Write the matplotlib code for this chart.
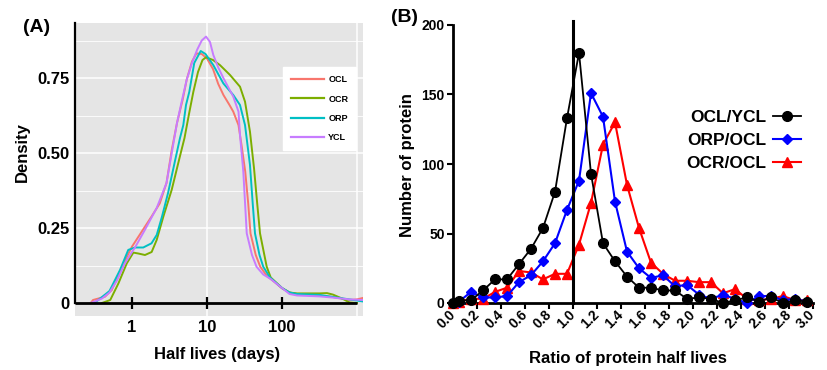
import numpy as np
import matplotlib
matplotlib.use("Agg")
import matplotlib.pyplot as plt

plt.rcParams['font.family'] = ['Liberation Sans', 'DejaVu Sans']
plt.rcParams['font.weight'] = 'bold'

# ---------------- Panel A data: log10(half life, days) vs density ----------------
ocl_logx = [-0.55, -0.52, -0.36, -0.27, -0.18, -0.09, 0.0, 0.13, 0.26, 0.37, 0.46, 0.53, 0.60, 0.675,
            0.73, 0.80, 0.86, 0.93, 1.0, 1.08, 1.15, 1.22, 1.30, 1.35, 1.42, 1.46, 1.51, 1.55, 1.58,
            1.65, 1.71, 1.80, 1.90, 2.0, 2.1, 2.2, 2.5, 2.68, 2.9, 3.0, 3.08]
ocl_dens = [0.0, 0.01, 0.021, 0.043, 0.093, 0.143, 0.188, 0.238, 0.288, 0.332, 0.40, 0.51, 0.60, 0.677,
            0.745, 0.805, 0.832, 0.83, 0.815, 0.78, 0.73, 0.693, 0.66, 0.638, 0.593, 0.527, 0.438, 0.33, 0.232,
            0.16, 0.121, 0.09, 0.07, 0.049, 0.035, 0.03, 0.025, 0.02, 0.01, 0.012, 0.017]

ocr_logx = [-0.40, -0.29, -0.18, -0.07, 0.018, 0.084, 0.173, 0.262, 0.329, 0.418, 0.529, 0.64, 0.70,
            0.76, 0.818, 0.88, 0.94, 0.987, 1.08, 1.173, 1.307, 1.44, 1.507, 1.573, 1.627, 1.67, 1.707,
            1.796, 1.85, 2.0, 2.1, 2.2, 2.5, 2.6, 2.68, 2.8, 2.9, 3.0]
ocr_dens = [0.0, 0.01, 0.066, 0.132, 0.168, 0.165, 0.16, 0.17, 0.21, 0.288, 0.377, 0.49, 0.55,
            0.63, 0.704, 0.77, 0.81, 0.819, 0.81, 0.793, 0.76, 0.721, 0.671, 0.571, 0.449, 0.33, 0.232,
            0.121, 0.085, 0.05, 0.035, 0.032, 0.032, 0.033, 0.028, 0.015, 0.002, 0.0]

orp_logx = [-0.50, -0.45, -0.30, -0.16, -0.05, 0.04, 0.15, 0.26, 0.33, 0.40, 0.48, 0.57, 0.64, 0.684,
            0.72, 0.764, 0.83, 0.916, 0.98, 1.084, 1.218, 1.351, 1.44, 1.507, 1.573, 1.61, 1.64, 1.70,
            1.75, 1.84, 2.0, 2.1, 2.2, 2.5, 2.68, 2.9, 3.08]
orp_dens = [0.0, 0.01, 0.04, 0.11, 0.177, 0.185, 0.185, 0.199, 0.227, 0.288, 0.366, 0.47, 0.55, 0.593,
            0.66, 0.704, 0.80, 0.84, 0.83, 0.793, 0.732, 0.693, 0.66, 0.593, 0.46, 0.33, 0.232, 0.16,
            0.121, 0.085, 0.05, 0.035, 0.03, 0.027, 0.02, 0.012, 0.005]

ycl_logx = [-0.55, -0.50, -0.40, -0.30, -0.20, -0.10, 0.0, 0.04, 0.17, 0.33, 0.46, 0.53, 0.60, 0.67,
            0.73, 0.80, 0.87, 0.93, 0.987, 1.04, 1.084, 1.15, 1.22, 1.35, 1.42, 1.44, 1.484, 1.53, 1.60,
            1.66, 1.75, 1.85, 2.0, 2.1, 2.2, 2.5, 2.68, 2.9, 3.08]
ycl_dens = [0.0, 0.005, 0.015, 0.035, 0.075, 0.13, 0.17, 0.185, 0.243, 0.317, 0.40, 0.50, 0.60, 0.68,
            0.745, 0.80, 0.845, 0.875, 0.888, 0.87, 0.827, 0.785, 0.749, 0.688, 0.638, 0.56, 0.438, 0.232,
            0.16, 0.121, 0.095, 0.08, 0.05, 0.03, 0.025, 0.022, 0.018, 0.012, 0.01]

series_A = [("OCL", ocl_logx, ocl_dens, "#F8766D"),
            ("OCR", ocr_logx, ocr_dens, "#7CAE00"),
            ("ORP", orp_logx, orp_dens, "#00BFC4"),
            ("YCL", ycl_logx, ycl_dens, "#C77CFF")]
xticks_A = [1, 10, 100]

# ---------------- Panel B data ----------------
ratio_bins = [0.0, 0.05, 0.15, 0.25, 0.35, 0.45, 0.55, 0.65, 0.75, 0.85, 0.95, 1.05, 1.15, 1.25, 1.35,
              1.45, 1.55, 1.65, 1.75, 1.85, 1.95, 2.05, 2.15, 2.25, 2.35, 2.45, 2.55, 2.65, 2.75, 2.85, 2.95]
ocl_ycl = [0, 1.7, 2, 9, 17, 17, 28, 39, 54, 80, 133, 180, 93, 43, 30,
           19, 11, 11, 9, 9, 3, 4, 3, 0, 2, 4, 1, 4, 0, 2, 1]
orp_ocl = [0, 1, 8, 4, 4, 5, 15, 20, 30, 43, 67, 88, 151, 134, 73,
           37, 25, 18, 20, 12, 13, 6, 3, 6, 3, 0, 5, 5, 2, 3, 1]
ocr_ocl = [0, 1, 3, 3, 8, 11, 23, 22, 17, 21, 21, 42, 72, 114, 130,
           85, 54, 29, 21, 16, 16, 15, 15, 7, 10, 3, 2, 3, 5, 2, 2]

fig = plt.figure(figsize=(8.28, 3.70), dpi=100)

# ======================= Panel A =======================
axA = fig.add_axes([75/828, 1-316/370, (363-75)/828, (316-23)/370])
axA.set_facecolor("#E5E5E5")
axA.set_xscale('log')
xl = (10**((75-132)/75), 10**((363-132)/75))
axA.set_xlim(*xl)
axA.set_ylim(-(316-303)/300, (303-23)/300)

for y in [0.125, 0.375, 0.625, 0.875]:
    axA.axhline(y, color='white', lw=0.6, zorder=0)
for y in [0.25, 0.5, 0.75]:
    axA.axhline(y, color='white', lw=1.1, zorder=0)
for xv in [10, 1000]:
    axA.axvline(xv, color='white', lw=1.1, zorder=0)

for name, lx, d, c in series_A:
    axA.plot(10**np.array(lx), d, color=c, lw=1.4, label=name, zorder=3)

# axis lines (ggplot-style black axis at density 0 and left edge)
for s in ['top', 'right', 'bottom']:
    axA.spines[s].set_visible(False)
axA.spines['left'].set_bounds(0, axA.get_ylim()[1])
axA.spines['left'].set_linewidth(1.6)
axA.spines['left'].set_color('black')
axA.plot([xl[0], 1000], [0, 0], color='black', lw=2.0, zorder=10, clip_on=False, solid_capstyle='butt')
axA.plot(xticks_A, [0]*len(xticks_A), linestyle='none', marker='|', ms=9, mew=1.6, color='black', zorder=10)

axA.set_xticks(xticks_A)
axA.set_xticklabels([str(v) for v in xticks_A])
axA.xaxis.set_minor_locator(matplotlib.ticker.NullLocator())
axA.tick_params(axis='x', length=0, pad=3, labelsize=12)
axA.set_yticks([0, 0.25, 0.5, 0.75])
axA.set_yticklabels(['0', '0.25', '0.50', '0.75'])
axA.tick_params(axis='y', length=0, pad=4, labelsize=12)
for t in axA.get_xticklabels() + axA.get_yticklabels():
    t.set_fontweight('bold')

fig.text(22/828, 1-152/370, "Density", rotation=90, ha='center', va='center', fontsize=12, fontweight='bold')
fig.text(217/828, 1-355/370, "Half lives (days)", ha='center', va='center', fontsize=12, fontweight='bold')
fig.text(37/828, 1-28/370, "(A)", ha='center', va='center', fontsize=14, fontweight='bold')

legA = axA.legend(loc='upper left', bbox_to_anchor=(283/828, 1-67/370), bbox_transform=fig.transFigure,
                  borderaxespad=0, frameon=True, fancybox=False, facecolor='white', edgecolor='white',
                  framealpha=1, prop={'size': 6.5, 'weight': 'bold'}, handlelength=3.6, labelspacing=1.15,
                  borderpad=0.9, handletextpad=0.5)
legA.set_zorder(11)
for lh in legA.get_lines():
    lh.set_linewidth(1.6)

# ======================= Panel B =======================
axB = fig.add_axes([453/828, 1-303/370, (813-453)/828, (303-25)/370])
axB.set_xlim(0, 3.0)
axB.set_ylim(0, 200)

axB.plot(ratio_bins, ocr_ocl, color='#FF0000', lw=1.5, marker='^', ms=7, label='OCR/OCL', clip_on=False, zorder=3)
axB.plot(ratio_bins, orp_ocl, color='#0000FF', lw=1.5, marker='D', ms=5, label='ORP/OCL', clip_on=False, zorder=4)
axB.plot(ratio_bins, ocl_ycl, color='black', lw=1.3, marker='o', ms=7, label='OCL/YCL', clip_on=False, zorder=5)
axB.plot([1.0, 1.0], [0, 203], color='black', lw=2.2, clip_on=False, zorder=6)

for s in ['top', 'right']:
    axB.spines[s].set_visible(False)
axB.spines['left'].set_linewidth(2)
axB.spines['bottom'].set_linewidth(2)
axB.set_yticks([0, 50, 100, 150, 200])
axB.set_xticks(np.round(np.arange(0, 3.01, 0.2), 1))
axB.set_xticklabels([f"{v:.1f}" for v in np.arange(0, 3.01, 0.2)])
axB.tick_params(axis='y', length=4, width=1.5, pad=2, labelsize=10)
axB.tick_params(axis='x', length=4, width=1.5, pad=3, labelsize=10)
for t in axB.get_xticklabels():
    t.set_rotation(45)
    t.set_ha('right')
    t.set_va('center')
    t.set_rotation_mode('anchor')
    t.set_fontweight('bold')
for t in axB.get_yticklabels():
    t.set_fontweight('bold')

fig.text(408/828, 1-165/370, "Number of protein", rotation=90, ha='center', va='center', fontsize=12, fontweight='bold')
fig.text(628/828, 1-358/370, "Ratio of protein half lives", ha='center', va='center', fontsize=12, fontweight='bold')
fig.text(405/828, 1-17/370, "(B)", ha='center', va='center', fontsize=14, fontweight='bold')

handles, labels = axB.get_legend_handles_labels()
order = [2, 1, 0]
axB.legend([handles[i] for i in order], [labels[i] for i in order], loc='upper right',
           bbox_to_anchor=(808/828, 1-103/370), bbox_transform=fig.transFigure, borderaxespad=0,
           frameon=False, markerfirst=False, prop={'size': 12.5, 'weight': 'bold'},
           handlelength=1.6, handletextpad=0.4, labelspacing=0.45)

fig.savefig("out.png", dpi=100)
